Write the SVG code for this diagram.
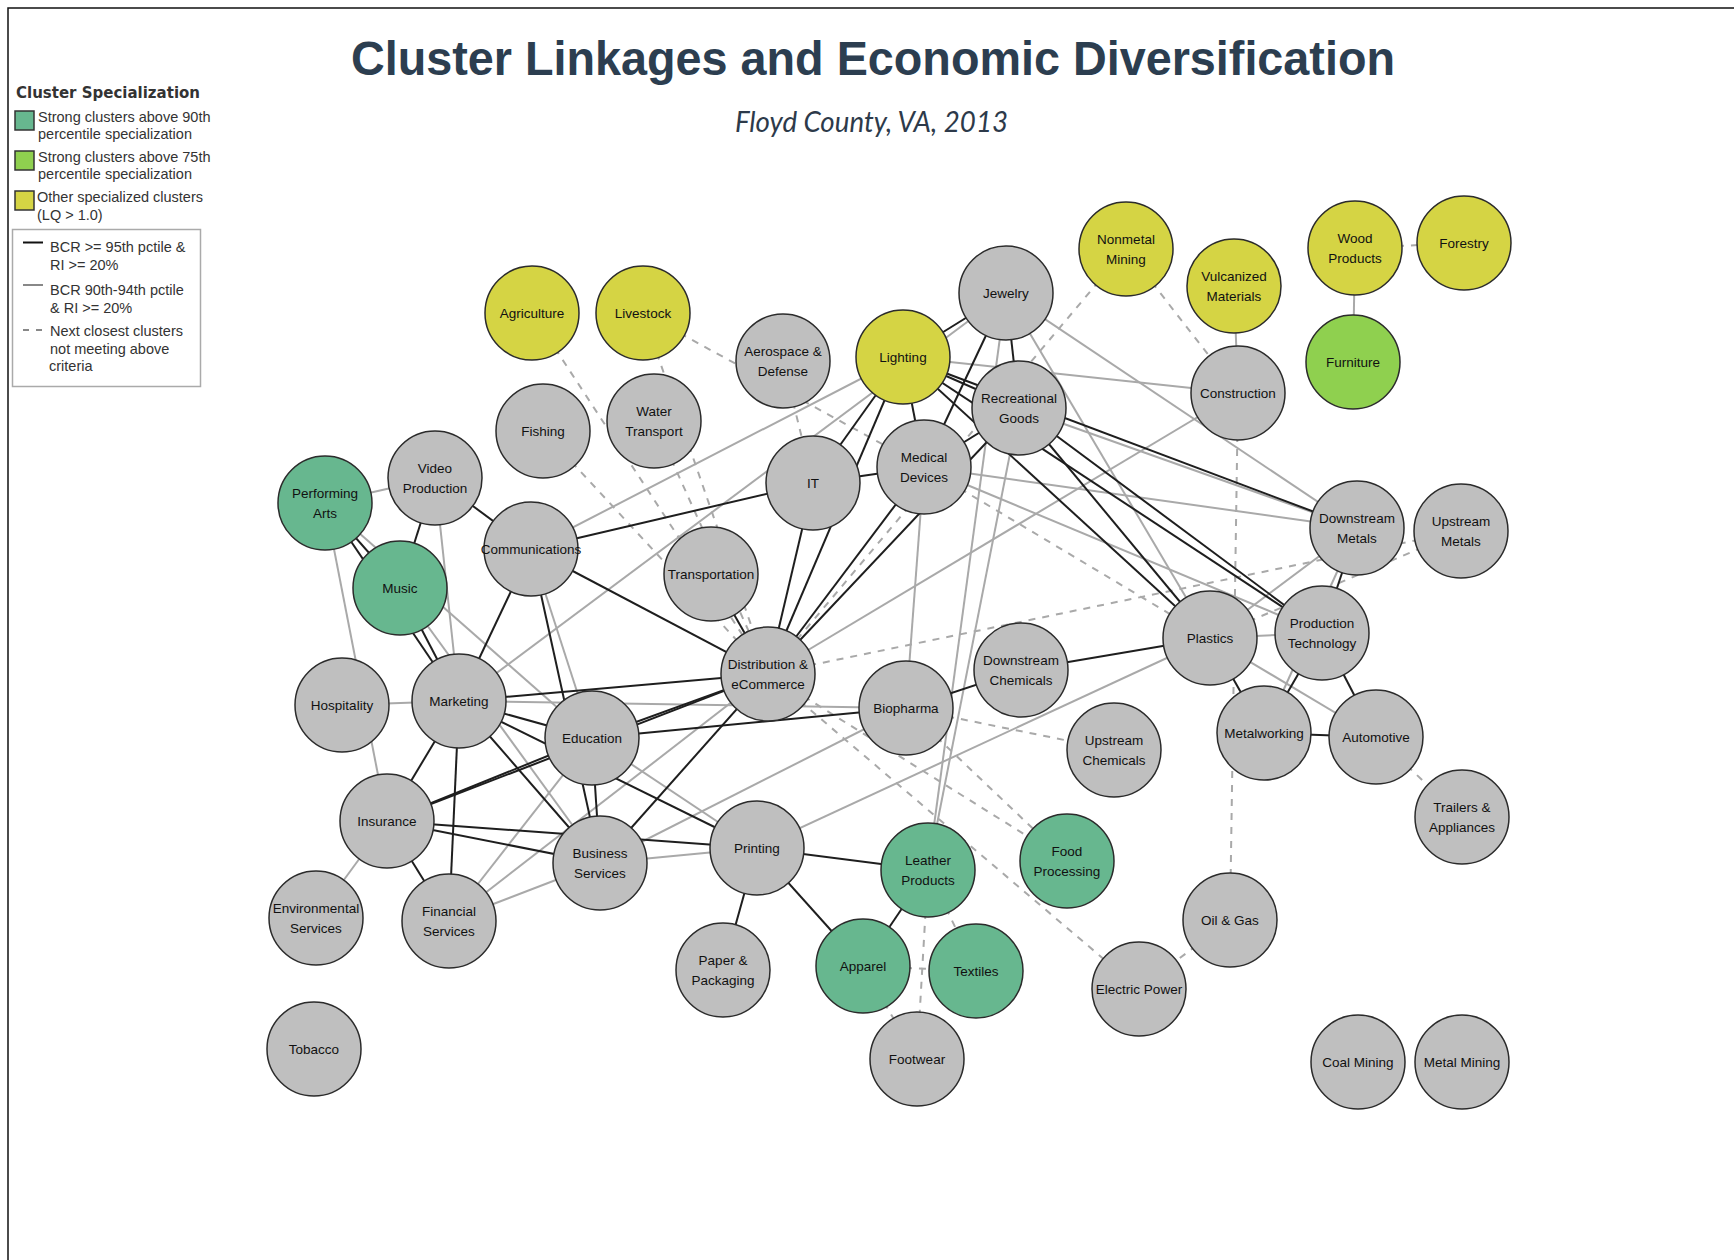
<svg xmlns="http://www.w3.org/2000/svg" width="1734" height="1260" viewBox="0 0 1734 1260">
<style>
.k{stroke:#1e1e1e;stroke-width:2;fill:none}
.g{stroke:#a9a9a9;stroke-width:2;fill:none}
.d{stroke:#a9a9a9;stroke-width:2;fill:none;stroke-dasharray:7 7}
.n{stroke:#2b2b2b;stroke-width:1.5}
.gr{fill:#bfbfbf}.gs{fill:#67b78f}.lg{fill:#8fd04f}.ye{fill:#d5d444}
.t{font-family:"Liberation Sans",Arial,sans-serif;font-size:13.5px;fill:#111;text-anchor:middle}
.lt{font-family:"Liberation Sans",Arial,sans-serif;font-size:14.5px;fill:#333}
</style>
<rect width="1734" height="1260" fill="#fff"/>
<path d="M8,1260V8H1734" fill="none" stroke="#111" stroke-width="1.5"/>
<text x="351" y="75" font-family="Liberation Sans,Arial,sans-serif" font-weight="bold" font-size="48" fill="#2c3e50" textLength="1044" lengthAdjust="spacingAndGlyphs">Cluster Linkages and Economic Diversification</text>
<text x="735" y="132" font-family="Lato,Liberation Sans,sans-serif" font-style="italic" font-size="28" fill="#2d3a4a" textLength="273" lengthAdjust="spacingAndGlyphs">Floyd County, VA, 2013</text>
<g id="legend">
<text x="16" y="98" font-family="DejaVu Sans,sans-serif" font-weight="bold" font-size="15" fill="#333">Cluster Specialization</text>
<rect x="15" y="111" width="19" height="19" class="gs" stroke="#333" stroke-width="1.5"/>
<text class="lt" x="38" y="122">Strong clusters above 90th</text>
<text class="lt" x="38" y="139">percentile specialization</text>
<rect x="15" y="151" width="19" height="19" class="lg" stroke="#333" stroke-width="1.5"/>
<text class="lt" x="38" y="162">Strong clusters above 75th</text>
<text class="lt" x="38" y="179">percentile specialization</text>
<rect x="15" y="191" width="19" height="19" class="ye" stroke="#333" stroke-width="1.5"/>
<text class="lt" x="37" y="202">Other specialized clusters</text>
<text class="lt" x="37" y="220">(LQ &gt; 1.0)</text>
<rect x="12.5" y="229.5" width="188" height="157" fill="none" stroke="#aaa" stroke-width="1.5"/>
<line x1="23" y1="242.5" x2="43" y2="242.5" stroke="#111" stroke-width="2"/>
<text class="lt" x="50" y="252">BCR &gt;= 95th pctile &amp;</text>
<text class="lt" x="50" y="270">RI &gt;= 20%</text>
<line x1="23" y1="285" x2="43" y2="285" stroke="#888" stroke-width="2"/>
<text class="lt" x="50" y="295">BCR 90th-94th pctile</text>
<text class="lt" x="50" y="313">&amp; RI &gt;= 20%</text>
<line x1="23" y1="330" x2="43" y2="330" stroke="#888" stroke-width="2" stroke-dasharray="6 7"/>
<text class="lt" x="50" y="336">Next closest clusters</text>
<text class="lt" x="50" y="353.5">not meeting above</text>
<text class="lt" x="49" y="371">criteria</text>
</g>
<g id="connectors">
<line class="g" x1="325" y1="503" x2="435" y2="478"/>
<line class="g" x1="325" y1="503" x2="387" y2="821"/>
<line class="g" x1="325" y1="503" x2="592" y2="738"/>
<line class="g" x1="435" y1="478" x2="459" y2="701"/>
<line class="g" x1="342" y1="705" x2="459" y2="701"/>
<line class="g" x1="531" y1="549" x2="903" y2="357"/>
<line class="g" x1="531" y1="549" x2="592" y2="738"/>
<line class="g" x1="459" y1="701" x2="1006" y2="293"/>
<line class="g" x1="459" y1="701" x2="906" y2="708"/>
<line class="g" x1="400" y1="588" x2="600" y2="863"/>
<line class="g" x1="592" y1="738" x2="757" y2="848"/>
<line class="g" x1="387" y1="821" x2="316" y2="918"/>
<line class="g" x1="449" y1="921" x2="600" y2="863"/>
<line class="g" x1="449" y1="921" x2="592" y2="738"/>
<line class="g" x1="449" y1="921" x2="768" y2="674"/>
<line class="g" x1="600" y1="863" x2="757" y2="848"/>
<line class="g" x1="600" y1="863" x2="906" y2="708"/>
<line class="g" x1="768" y1="674" x2="1238" y2="393"/>
<line class="g" x1="757" y1="848" x2="1210" y2="638"/>
<line class="g" x1="903" y1="357" x2="1238" y2="393"/>
<line class="g" x1="1006" y1="293" x2="928" y2="870"/>
<line class="g" x1="1019" y1="408" x2="928" y2="870"/>
<line class="g" x1="1006" y1="293" x2="1210" y2="638"/>
<line class="g" x1="1006" y1="293" x2="1357" y2="528"/>
<line class="g" x1="1019" y1="408" x2="1357" y2="528"/>
<line class="g" x1="924" y1="467" x2="906" y2="708"/>
<line class="g" x1="924" y1="467" x2="1357" y2="528"/>
<line class="g" x1="924" y1="467" x2="1322" y2="633"/>
<line class="g" x1="1210" y1="638" x2="1322" y2="633"/>
<line class="g" x1="1210" y1="638" x2="1376" y2="737"/>
<line class="g" x1="1357" y1="528" x2="1210" y2="638"/>
<line class="g" x1="1357" y1="528" x2="1264" y2="733"/>
<line class="g" x1="1234" y1="286" x2="1238" y2="393"/>
<line class="g" x1="1355" y1="248" x2="1353" y2="362"/>
<line class="d" x1="1355" y1="248" x2="1464" y2="243"/>
<line class="d" x1="1126" y1="249" x2="1238" y2="393"/>
<line class="d" x1="1126" y1="249" x2="768" y2="674"/>
<line class="d" x1="532" y1="313" x2="768" y2="674"/>
<line class="d" x1="543" y1="431" x2="768" y2="674"/>
<line class="d" x1="654" y1="421" x2="768" y2="674"/>
<line class="d" x1="643" y1="313" x2="768" y2="674"/>
<line class="d" x1="643" y1="313" x2="924" y2="467"/>
<line class="d" x1="783" y1="361" x2="813" y2="483"/>
<line class="d" x1="768" y1="674" x2="1461" y2="531"/>
<line class="d" x1="1210" y1="638" x2="1461" y2="531"/>
<line class="d" x1="924" y1="467" x2="1210" y2="638"/>
<line class="d" x1="906" y1="708" x2="1114" y2="750"/>
<line class="d" x1="768" y1="674" x2="1067" y2="861"/>
<line class="d" x1="906" y1="708" x2="1067" y2="861"/>
<line class="d" x1="768" y1="674" x2="1139" y2="989"/>
<line class="d" x1="928" y1="870" x2="917" y2="1059"/>
<line class="d" x1="863" y1="966" x2="917" y2="1059"/>
<line class="d" x1="863" y1="966" x2="976" y2="971"/>
<line class="d" x1="928" y1="870" x2="976" y2="971"/>
<line class="d" x1="1230" y1="920" x2="1139" y2="989"/>
<line class="d" x1="1238" y1="393" x2="1230" y2="920"/>
<line class="d" x1="1376" y1="737" x2="1462" y2="817"/>
<line class="k" x1="325" y1="503" x2="400" y2="588"/>
<line class="k" x1="325" y1="503" x2="459" y2="701"/>
<line class="k" x1="400" y1="588" x2="459" y2="701"/>
<line class="k" x1="435" y1="478" x2="400" y2="588"/>
<line class="k" x1="435" y1="478" x2="531" y2="549"/>
<line class="k" x1="531" y1="549" x2="459" y2="701"/>
<line class="k" x1="531" y1="549" x2="813" y2="483"/>
<line class="k" x1="531" y1="549" x2="768" y2="674"/>
<line class="k" x1="531" y1="549" x2="600" y2="863"/>
<line class="k" x1="459" y1="701" x2="592" y2="738"/>
<line class="k" x1="459" y1="701" x2="768" y2="674"/>
<line class="k" x1="459" y1="701" x2="757" y2="848"/>
<line class="k" x1="459" y1="701" x2="600" y2="863"/>
<line class="k" x1="459" y1="701" x2="387" y2="821"/>
<line class="k" x1="459" y1="701" x2="449" y2="921"/>
<line class="k" x1="387" y1="821" x2="449" y2="921"/>
<line class="k" x1="387" y1="821" x2="592" y2="738"/>
<line class="k" x1="387" y1="821" x2="768" y2="674"/>
<line class="k" x1="387" y1="821" x2="600" y2="863"/>
<line class="k" x1="387" y1="821" x2="757" y2="848"/>
<line class="k" x1="592" y1="738" x2="600" y2="863"/>
<line class="k" x1="592" y1="738" x2="768" y2="674"/>
<line class="k" x1="592" y1="738" x2="906" y2="708"/>
<line class="k" x1="600" y1="863" x2="768" y2="674"/>
<line class="k" x1="711" y1="574" x2="768" y2="674"/>
<line class="k" x1="813" y1="483" x2="768" y2="674"/>
<line class="k" x1="813" y1="483" x2="924" y2="467"/>
<line class="k" x1="903" y1="357" x2="813" y2="483"/>
<line class="k" x1="903" y1="357" x2="768" y2="674"/>
<line class="k" x1="903" y1="357" x2="1006" y2="293"/>
<line class="k" x1="903" y1="357" x2="924" y2="467"/>
<line class="k" x1="903" y1="357" x2="1019" y2="408"/>
<line class="k" x1="903" y1="357" x2="1357" y2="528"/>
<line class="k" x1="903" y1="357" x2="1322" y2="633"/>
<line class="k" x1="903" y1="357" x2="1210" y2="638"/>
<line class="k" x1="1006" y1="293" x2="1019" y2="408"/>
<line class="k" x1="1006" y1="293" x2="924" y2="467"/>
<line class="k" x1="1019" y1="408" x2="924" y2="467"/>
<line class="k" x1="1019" y1="408" x2="768" y2="674"/>
<line class="k" x1="1019" y1="408" x2="1322" y2="633"/>
<line class="k" x1="1019" y1="408" x2="1210" y2="638"/>
<line class="k" x1="924" y1="467" x2="768" y2="674"/>
<line class="k" x1="906" y1="708" x2="1021" y2="670"/>
<line class="k" x1="1021" y1="670" x2="1210" y2="638"/>
<line class="k" x1="1210" y1="638" x2="1264" y2="733"/>
<line class="k" x1="1322" y1="633" x2="1264" y2="733"/>
<line class="k" x1="1322" y1="633" x2="1376" y2="737"/>
<line class="k" x1="1264" y1="733" x2="1376" y2="737"/>
<line class="k" x1="1357" y1="528" x2="1322" y2="633"/>
<line class="k" x1="757" y1="848" x2="723" y2="970"/>
<line class="k" x1="757" y1="848" x2="863" y2="966"/>
<line class="k" x1="757" y1="848" x2="928" y2="870"/>
<line class="k" x1="928" y1="870" x2="863" y2="966"/>
</g>
<g id="n-agri"><circle class="n ye" cx="532" cy="313" r="47"/><text class="t" x="532" y="318">Agriculture</text></g>
<g id="n-live"><circle class="n ye" cx="643" cy="313" r="47"/><text class="t" x="643" y="318">Livestock</text></g>
<g id="n-fish"><circle class="n gr" cx="543" cy="431" r="47"/><text class="t" x="543" y="436">Fishing</text></g>
<g id="n-water"><circle class="n gr" cx="654" cy="421" r="47"/><text class="t" x="654" y="416">Water<tspan x="654" dy="20">Transport</tspan></text></g>
<g id="n-video"><circle class="n gr" cx="435" cy="478" r="47"/><text class="t" x="435" y="473">Video<tspan x="435" dy="20">Production</tspan></text></g>
<g id="n-perf"><circle class="n gs" cx="325" cy="503" r="47"/><text class="t" x="325" y="498">Performing<tspan x="325" dy="20">Arts</tspan></text></g>
<g id="n-music"><circle class="n gs" cx="400" cy="588" r="47"/><text class="t" x="400" y="593">Music</text></g>
<g id="n-comm"><circle class="n gr" cx="531" cy="549" r="47"/><text class="t" x="531" y="554">Communications</text></g>
<g id="n-hosp"><circle class="n gr" cx="342" cy="705" r="47"/><text class="t" x="342" y="710">Hospitality</text></g>
<g id="n-mkt"><circle class="n gr" cx="459" cy="701" r="47"/><text class="t" x="459" y="706">Marketing</text></g>
<g id="n-edu"><circle class="n gr" cx="592" cy="738" r="47"/><text class="t" x="592" y="743">Education</text></g>
<g id="n-trans"><circle class="n gr" cx="711" cy="574" r="47"/><text class="t" x="711" y="579">Transportation</text></g>
<g id="n-aero"><circle class="n gr" cx="783" cy="361" r="47"/><text class="t" x="783" y="356">Aerospace &amp;<tspan x="783" dy="20">Defense</tspan></text></g>
<g id="n-light"><circle class="n ye" cx="903" cy="357" r="47"/><text class="t" x="903" y="362">Lighting</text></g>
<g id="n-jewel"><circle class="n gr" cx="1006" cy="293" r="47"/><text class="t" x="1006" y="298">Jewelry</text></g>
<g id="n-rec"><circle class="n gr" cx="1019" cy="408" r="47"/><text class="t" x="1019" y="403">Recreational<tspan x="1019" dy="20">Goods</tspan></text></g>
<g id="n-med"><circle class="n gr" cx="924" cy="467" r="47"/><text class="t" x="924" y="462">Medical<tspan x="924" dy="20">Devices</tspan></text></g>
<g id="n-it"><circle class="n gr" cx="813" cy="483" r="47"/><text class="t" x="813" y="488">IT</text></g>
<g id="n-nonmet"><circle class="n ye" cx="1126" cy="249" r="47"/><text class="t" x="1126" y="244">Nonmetal<tspan x="1126" dy="20">Mining</tspan></text></g>
<g id="n-vulc"><circle class="n ye" cx="1234" cy="286" r="47"/><text class="t" x="1234" y="281">Vulcanized<tspan x="1234" dy="20">Materials</tspan></text></g>
<g id="n-constr"><circle class="n gr" cx="1238" cy="393" r="47"/><text class="t" x="1238" y="398">Construction</text></g>
<g id="n-wood"><circle class="n ye" cx="1355" cy="248" r="47"/><text class="t" x="1355" y="243">Wood<tspan x="1355" dy="20">Products</tspan></text></g>
<g id="n-forest"><circle class="n ye" cx="1464" cy="243" r="47"/><text class="t" x="1464" y="248">Forestry</text></g>
<g id="n-furn"><circle class="n lg" cx="1353" cy="362" r="47"/><text class="t" x="1353" y="367">Furniture</text></g>
<g id="n-dist"><circle class="n gr" cx="768" cy="674" r="47"/><text class="t" x="768" y="669">Distribution &amp;<tspan x="768" dy="20">eCommerce</tspan></text></g>
<g id="n-bio"><circle class="n gr" cx="906" cy="708" r="47"/><text class="t" x="906" y="713">Biopharma</text></g>
<g id="n-dchem"><circle class="n gr" cx="1021" cy="670" r="47"/><text class="t" x="1021" y="665">Downstream<tspan x="1021" dy="20">Chemicals</tspan></text></g>
<g id="n-uchem"><circle class="n gr" cx="1114" cy="750" r="47"/><text class="t" x="1114" y="745">Upstream<tspan x="1114" dy="20">Chemicals</tspan></text></g>
<g id="n-dmet"><circle class="n gr" cx="1357" cy="528" r="47"/><text class="t" x="1357" y="523">Downstream<tspan x="1357" dy="20">Metals</tspan></text></g>
<g id="n-umet"><circle class="n gr" cx="1461" cy="531" r="47"/><text class="t" x="1461" y="526">Upstream<tspan x="1461" dy="20">Metals</tspan></text></g>
<g id="n-plast"><circle class="n gr" cx="1210" cy="638" r="47"/><text class="t" x="1210" y="643">Plastics</text></g>
<g id="n-prod"><circle class="n gr" cx="1322" cy="633" r="47"/><text class="t" x="1322" y="628">Production<tspan x="1322" dy="20">Technology</tspan></text></g>
<g id="n-metw"><circle class="n gr" cx="1264" cy="733" r="47"/><text class="t" x="1264" y="738">Metalworking</text></g>
<g id="n-auto"><circle class="n gr" cx="1376" cy="737" r="47"/><text class="t" x="1376" y="742">Automotive</text></g>
<g id="n-trail"><circle class="n gr" cx="1462" cy="817" r="47"/><text class="t" x="1462" y="812">Trailers &amp;<tspan x="1462" dy="20">Appliances</tspan></text></g>
<g id="n-ins"><circle class="n gr" cx="387" cy="821" r="47"/><text class="t" x="387" y="826">Insurance</text></g>
<g id="n-env"><circle class="n gr" cx="316" cy="918" r="47"/><text class="t" x="316" y="913">Environmental<tspan x="316" dy="20">Services</tspan></text></g>
<g id="n-fin"><circle class="n gr" cx="449" cy="921" r="47"/><text class="t" x="449" y="916">Financial<tspan x="449" dy="20">Services</tspan></text></g>
<g id="n-bus"><circle class="n gr" cx="600" cy="863" r="47"/><text class="t" x="600" y="858">Business<tspan x="600" dy="20">Services</tspan></text></g>
<g id="n-tob"><circle class="n gr" cx="314" cy="1049" r="47"/><text class="t" x="314" y="1054">Tobacco</text></g>
<g id="n-print"><circle class="n gr" cx="757" cy="848" r="47"/><text class="t" x="757" y="853">Printing</text></g>
<g id="n-leath"><circle class="n gs" cx="928" cy="870" r="47"/><text class="t" x="928" y="865">Leather<tspan x="928" dy="20">Products</tspan></text></g>
<g id="n-food"><circle class="n gs" cx="1067" cy="861" r="47"/><text class="t" x="1067" y="856">Food<tspan x="1067" dy="20">Processing</tspan></text></g>
<g id="n-paper"><circle class="n gr" cx="723" cy="970" r="47"/><text class="t" x="723" y="965">Paper &amp;<tspan x="723" dy="20">Packaging</tspan></text></g>
<g id="n-app"><circle class="n gs" cx="863" cy="966" r="47"/><text class="t" x="863" y="971">Apparel</text></g>
<g id="n-tex"><circle class="n gs" cx="976" cy="971" r="47"/><text class="t" x="976" y="976">Textiles</text></g>
<g id="n-foot"><circle class="n gr" cx="917" cy="1059" r="47"/><text class="t" x="917" y="1064">Footwear</text></g>
<g id="n-elec"><circle class="n gr" cx="1139" cy="989" r="47"/><text class="t" x="1139" y="994">Electric Power</text></g>
<g id="n-oil"><circle class="n gr" cx="1230" cy="920" r="47"/><text class="t" x="1230" y="925">Oil &amp; Gas</text></g>
<g id="n-coal"><circle class="n gr" cx="1358" cy="1062" r="47"/><text class="t" x="1358" y="1067">Coal Mining</text></g>
<g id="n-metal"><circle class="n gr" cx="1462" cy="1062" r="47"/><text class="t" x="1462" y="1067">Metal Mining</text></g>
</svg>
